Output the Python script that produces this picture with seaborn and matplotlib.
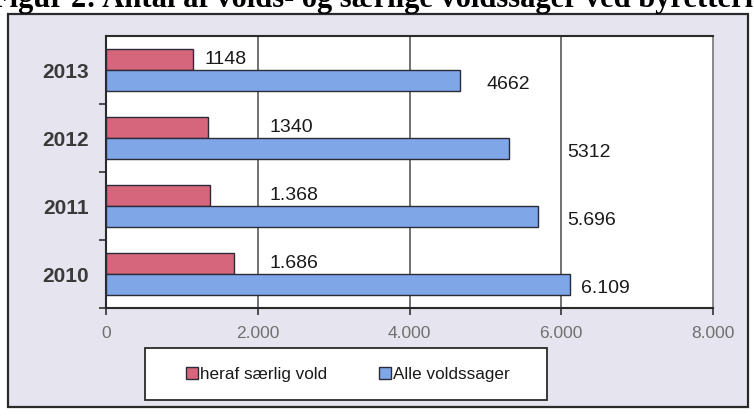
import matplotlib
matplotlib.use("Agg")
import matplotlib.pyplot as plt
import seaborn as sns
import pandas as pd
from matplotlib.patches import Rectangle
from matplotlib.ticker import FixedLocator

years = ["2013", "2012", "2011", "2010"]
series = ["heraf særlig vold", "Alle voldssager"]
saerlig = [1148, 1340, 1368, 1686]
alle = [4662, 5312, 5696, 6109]
saerlig_labels = ["1148", "1340", "1.368", "1.686"]
alle_labels = ["4662", "5312", "5.696", "6.109"]
xticks = [0, 2000, 4000, 6000, 8000]
xtick_labels = ["0", "2.000", "4.000", "6.000", "8.000"]
title = "Figur 2: Antal af volds- og særlige voldssager ved byretterne"

df = pd.DataFrame({
    "year": years * 2,
    "series": [series[0]] * 4 + [series[1]] * 4,
    "value": saerlig + alle,
})

sns.set_theme(style="white")
plt.rcParams["font.family"] = ["Liberation Sans", "DejaVu Sans"]

W, H = 754, 416
fig = plt.figure(figsize=(W / 100, H / 100), dpi=100)
fig.patch.set_facecolor("white")

# grey chart frame
frame = Rectangle((8 / W, 1 - 407 / H), 740 / W, 393 / H,
                  transform=fig.transFigure, facecolor="#e6e4ee",
                  edgecolor="#2a2a2a", linewidth=1.6, zorder=-5)
fig.add_artist(frame)

# title (cut off at top, as in the source scan)
fig.text(-0.012, 1 - 7 / H, title, ha="left", va="baseline",
         fontsize=22, fontweight="bold", family=["Liberation Serif", "DejaVu Serif"],
         color="black", zorder=-4)

ax = fig.add_axes([106 / W, 1 - 308 / H, (713 - 106) / W, (308 - 36) / H])
ax.set_zorder(1)
ax.set_facecolor("white")

palette = {series[0]: "#d6667c", series[1]: "#7fa6e6"}
sns.barplot(data=df, y="year", x="value", hue="series", order=years,
            hue_order=series, palette=palette, orient="h", width=0.62,
            edgecolor="#2b2b3a", linewidth=1.0, saturation=1, ax=ax,
            legend=True, zorder=3)

ax.set_xlim(0, 8000)
ax.set_ylim(3.5, -0.5)
ax.set_xlabel("")
ax.set_ylabel("")

ax.xaxis.set_major_locator(FixedLocator(xticks))
ax.set_xticklabels(xtick_labels)
ax.tick_params(axis="x", direction="out", length=5, width=1.2, color="#333333",
               labelsize=12.5, labelcolor="#707070", pad=8, bottom=True)
ax.tick_params(axis="y", which="major", length=0, labelsize=15, labelcolor="#3a3a3a", pad=12)
for lbl in ax.get_yticklabels():
    lbl.set_fontweight("bold")
ax.yaxis.set_minor_locator(FixedLocator([0.5, 1.5, 2.5, 3.5]))
ax.tick_params(axis="y", which="minor", direction="out", length=5, width=1.2,
               color="#333333", left=True)

for x in xticks[1:-1]:
    ax.axvline(x, color="#4a4a4a", linewidth=1.1, zorder=1)

for side in ["left", "bottom", "top"]:
    ax.spines[side].set_color("#2a2a2a")
    ax.spines[side].set_linewidth(1.5)
ax.spines["right"].set_color("#777777")
ax.spines["right"].set_linewidth(1.2)

# value labels: the first year's labels follow their bars, the others line up
for i, (v, s) in enumerate(zip(saerlig, saerlig_labels)):
    x = v + 150 if i == 0 else max(v + 150, 2150)
    ax.text(x, i - 0.15, s, ha="left", va="center",
            fontsize=14, color="#1a1a1a", zorder=4)
for i, (v, s) in enumerate(zip(alle, alle_labels)):
    x = v + 350 if i == 0 else max(v + 150, 6080)
    ax.text(x, i + 0.21, s, ha="left", va="center",
            fontsize=14, color="#1a1a1a", zorder=4)

# legend box + frameless legend inside it
box = Rectangle((145 / W, 1 - 400 / H), 402 / W, 52 / H,
                transform=fig.transFigure, facecolor="white",
                edgecolor="#2a2a2a", linewidth=1.3, zorder=4)
fig.add_artist(box)
handles, labels = ax.get_legend_handles_labels()
ax.get_legend().remove()
leg = fig.legend(handles, labels, loc="center",
                 bbox_to_anchor=(348 / W, 1 - 374 / H), ncol=2, frameon=False,
                 fontsize=12.3, handlelength=0.7, handleheight=0.7,
                 handletextpad=0.15, columnspacing=3.0, borderpad=0.2,
                 borderaxespad=0)
leg.set_zorder(5)
for t in leg.get_texts():
    t.set_color("#1a1a1a")

fig.savefig("out.png", dpi=100)
